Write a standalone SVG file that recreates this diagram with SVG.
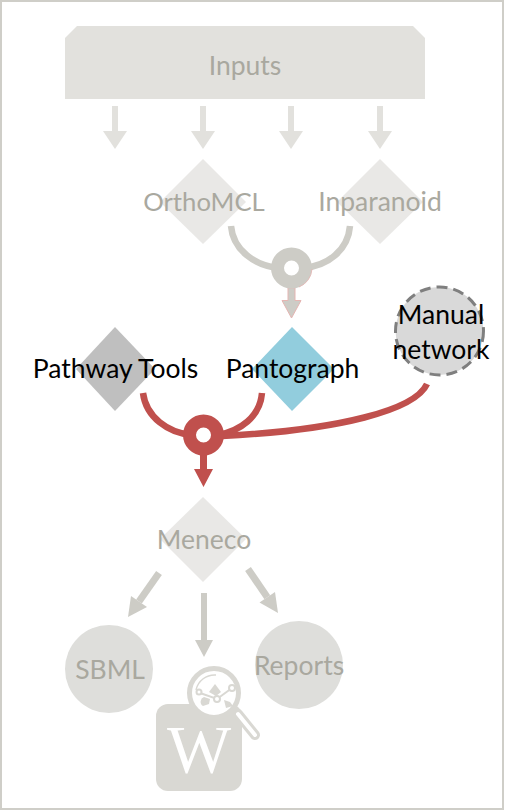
<svg xmlns="http://www.w3.org/2000/svg" width="507" height="811" viewBox="0 0 507 811">
<style>
text{font-family:"Lato","Open Sans","Liberation Sans",sans-serif;font-size:26.500px;text-anchor:middle}
.dim{fill:#a9a89f}
.blk{fill:#000}
.fade{fill:#e2e1dd}
.dia{fill:#e9e8e6}
.g{stroke:#cdccc6;fill:none}
.r{stroke:#c0504d;fill:none}
</style>
<rect width="507" height="811" fill="#fff"/>
<rect x="1" y="1" width="502" height="808" fill="#fff" stroke="#cfcec8" stroke-width="2"/>
<g id="connectors">
<g class="fade">
<path d="M112 106h6v25h9l-12 18-12-18h9z"/>
<path d="M200 106h6v25h9l-12 18-12-18h9z"/>
<path d="M288 106h6v25h9l-12 18-12-18h9z"/>
<path d="M377 106h6v25h9l-12 18-12-18h9z"/>
</g>
<path class="g" stroke-width="6.500" d="M231 226C233 250 255 266 280 268"/>
<path class="g" stroke-width="6.500" d="M350 226C348 250 328 266 303 268"/>
<path d="M288 288h7v12.500h6l-9.500 17.500-9.500-17.500h6z" fill="#cdccc6" stroke="#e5b5b2" stroke-width="1"/>
<path class="r" stroke-width="6.500" d="M143 393C146 417 168 433 192 435"/>
<path class="r" stroke-width="6.500" d="M262 393C260 417 240 431 218 435"/>
<path class="r" stroke-width="6.500" d="M427 384C415 410 340 430 222 436"/>
<path d="M200 452h7v17h6l-9.500 18-9.500-18h6z" fill="#c0504d"/>
<g fill="#cdccc6">
<path d="M159 573L139 601.500" stroke="#cdccc6" stroke-width="7"/>
<path d="M128 617L131 596 147 607Z"/>
<path d="M201 593h6v47h6l-9 17-9-17h6z"/>
<path d="M248 569L267.300 597.300" stroke="#cdccc6" stroke-width="7"/>
<path d="M278 613L275 592 259.500 602.600Z"/>
</g>
</g>
<g id="inputs">
<path class="fade" d="M65 99V38L77 26H413L425 38V99Z"/>
<text class="dim" x="245" y="75">Inputs</text>
</g>
<g id="orthomcl">
<path class="dia" d="M203 159L246 202 203 244 160 202Z"/>
<text class="dim" x="204" y="211" style="font-size:25.700px">OrthoMCL</text>
</g>
<g id="inparanoid">
<path class="dia" d="M380 159L423 202 380 244 337 202Z"/>
<text class="dim" x="380" y="211">Inparanoid</text>
</g>
<g id="join-top">
<circle cx="291.500" cy="268" r="14" fill="#fff" stroke="#cdccc6" stroke-width="13"/>
<path d="M312 269A20.500 20.500 0 0 1 299 287" fill="none" stroke="#e5b5b2" stroke-width="0.800"/>
</g>
<g id="pathway-tools">
<path fill="#bfbfbf" d="M115 327L155 369 115 411 76 369Z"/>
<text class="blk" x="115.500" y="378">Pathway Tools</text>
</g>
<g id="pantograph">
<path fill="#92cddd" d="M292 327L334 369 292 411 252 369Z"/>
<text class="blk" x="292.500" y="378">Pantograph</text>
</g>
<g id="manual-network">
<circle cx="439.500" cy="331" r="44" fill="#d9d9d9" stroke="#7f7f7f" stroke-width="3" stroke-dasharray="11 6"/>
<text class="blk" x="441" y="324">Manual</text>
<text class="blk" x="441" y="359">network</text>
</g>
<g id="join-bottom">
<circle cx="203.500" cy="435" r="14" fill="#fff" stroke="#c0504d" stroke-width="13"/>
</g>
<g id="meneco">
<path class="dia" d="M203 497L246 539 203 582 160 539Z"/>
<text class="dim" x="204" y="549">Meneco</text>
</g>
<g id="sbml">
<circle cx="109" cy="669" r="44" fill="#dededb"/>
<text class="dim" x="110" y="679">SBML</text>
</g>
<g id="reports">
<circle cx="299" cy="665" r="44" fill="#dededb"/>
<text class="dim" x="299" y="675">Reports</text>
</g>
<g id="wikipedia">
<rect x="156" y="704" width="86" height="87" rx="12" fill="#d9d8d3"/>
<text x="199" y="772" style="font-family:'Liberation Serif',serif;font-size:68px" fill="#fff">W</text>
<path d="M238 714L255 735" stroke="#d9d8d3" stroke-width="10" stroke-linecap="round"/>
<path d="M238 714L255 735" stroke="#fff" stroke-width="4" stroke-linecap="round"/>
<circle cx="214" cy="693" r="24.500" fill="#fff" stroke="#d9d8d3" stroke-width="5"/>
<path d="M196 690a19 19 0 0 1 20-15" fill="none" stroke="#d9d8d3" stroke-width="1.500"/>
<path d="M200 693l17 6 15-11" fill="none" stroke="#d9d8d3" stroke-width="2"/>
<path d="M203 706a5 5 0 0 1 1-9l6 2-1 5z M209 692l6-8 6 8-5 4z M224 700l6 2 3 4-7 2z" fill="#d9d8d3"/>
<g fill="#fff" stroke="#d9d8d3" stroke-width="2"><circle cx="199" cy="692" r="2.500"/><circle cx="217" cy="699" r="3"/><circle cx="232" cy="688" r="3"/></g>
</g>
</svg>
